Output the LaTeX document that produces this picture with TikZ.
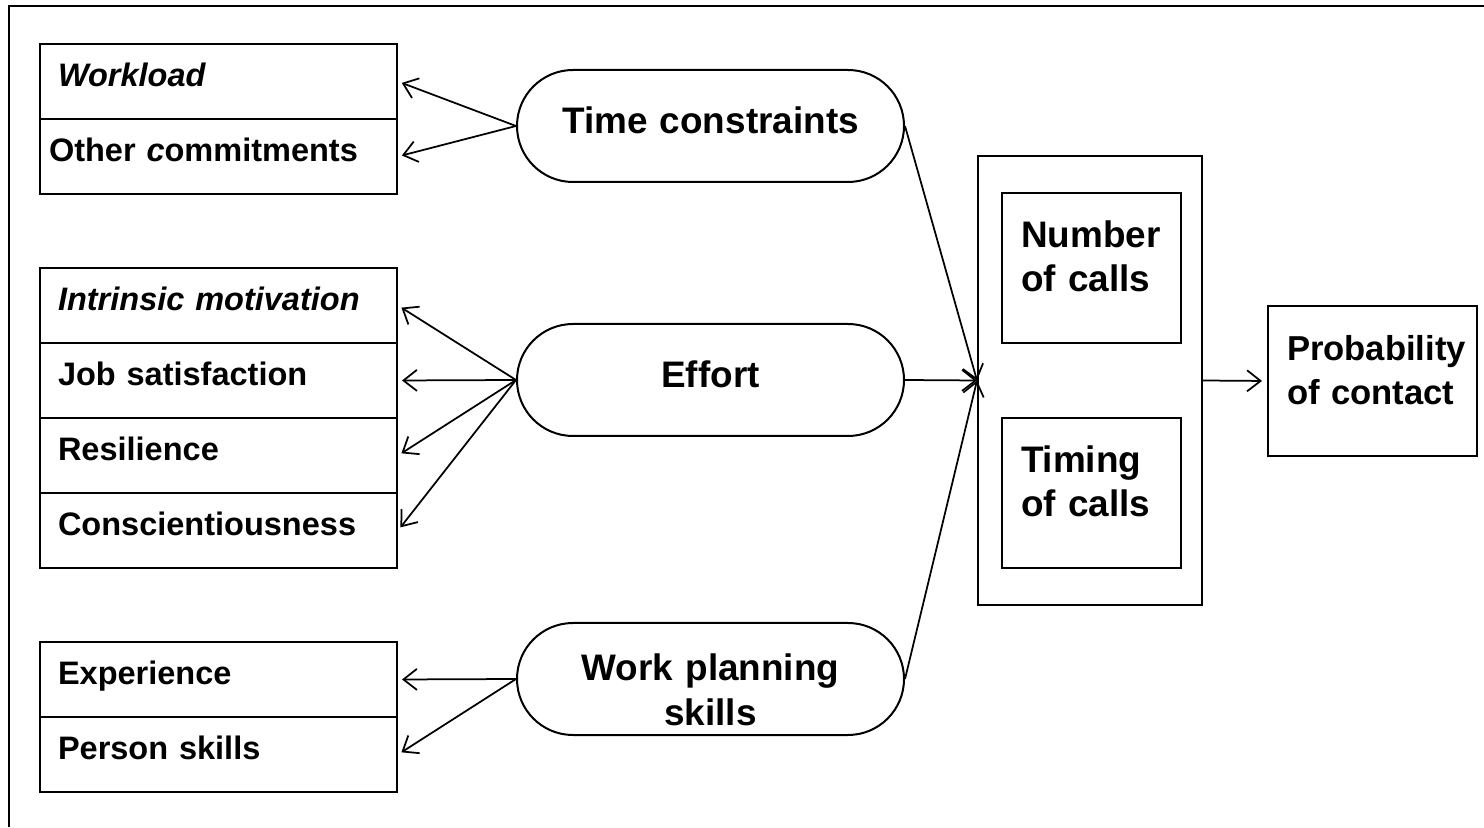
\documentclass[tikz,border=0pt]{standalone}
\usepackage{fontspec}
\setmainfont{Liberation Sans}
\usetikzlibrary{arrows.meta}

\begin{document}
\begin{tikzpicture}[
	factor/.style={draw, line width=0.04cm, minimum width=7.14cm, minimum height=1.5cm,
		text width=6.42cm, align=left, inner xsep=0.36cm, inner ysep=0.1cm,
		text height=0.5cm, text depth=0.3cm, font=\fontsize{18.5}{22}\selectfont\bfseries},
	driver/.style={draw, line width=0.04cm, rounded corners=1.12cm, minimum width=7.74cm,
		minimum height=2.24cm, text width=7cm, align=center, inner ysep=0.1cm,
		text height=0.62cm, text depth=0.3cm, font=\fontsize{21}{25.6}\selectfont\bfseries},
	callbox/.style={draw, line width=0.04cm, minimum width=3.58cm, minimum height=3cm,
		text width=2.82cm, align=left, inner xsep=0.38cm, inner ysep=0.1cm,
		text height=0.5cm, text depth=1.3cm, font=\fontsize{21}{25}\selectfont\bfseries},
	link/.style={line width=0.035cm, -{Straight Barb[length=0.27cm, width=0.42cm]}}
]
	\useasboundingbox (0, 0) rectangle (29.68, 16.54);
	\draw[line width=0.04cm] (0.18, 0) -- (0.18, 16.42) -- (29.68, 16.42);

	\node[factor] (workload) at (4.37, 14.91) {\textit{Workload}};
	\node[factor] (commit) at (4.37, 13.41) {\hspace*{-0.18cm}Other \textit{c}ommitments};

	\node[factor] (intrinsic) at (4.37, 10.43) {\textit{Intrinsic motivation}};
	\node[factor] (satisfaction) at (4.37, 8.93) {Job satisfaction};
	\node[factor] (resilience) at (4.37, 7.43) {Resilience};
	\node[factor] (conscientious) at (4.37, 5.93) {Conscientiousness};

	\node[factor] (experience) at (4.37, 2.95) {Experience};
	\node[factor] (person) at (4.37, 1.45) {Person skills};

	\node[driver] (time) at (14.21, 14.02) {Time constraints};
	\node[driver] (effort) at (14.21, 8.94) {Effort};
	\node[driver, text height=1cm, text depth=0.92cm] (planning) at (14.21, 2.96) {Work planning\\skills};

	\node[draw, line width=0.04cm, minimum width=4.48cm, minimum height=8.98cm] (calls) at (21.8, 8.93) {};
	\node[callbox] (number) at (21.83, 11.18) {Number\\of calls};
	\node[callbox] (timing) at (21.83, 6.68) {Timing\\of calls};

	\node[callbox, minimum width=4.18cm, text width=3.42cm, font=\fontsize{19.7}{25}\selectfont\bfseries] (contact) at (27.45, 8.92) {Probability\\of contact};

	\draw[link, shorten >=0.08cm] (time.west) -- (workload.east);
	\draw[link, shorten >=0.08cm] (time.west) -- (commit.east);

	\draw[link, shorten >=0.08cm] (effort.west) -- (intrinsic.east);
	\draw[link, shorten >=0.08cm] (effort.west) -- (satisfaction.east);
	\draw[link, shorten >=0.08cm] (effort.west) -- (resilience.east);
	\draw[link, shorten >=0.08cm] (effort.west) -- (conscientious.east);

	\draw[link, shorten >=0.08cm] (planning.west) -- (experience.east);
	\draw[link, shorten >=0.08cm] (planning.west) -- (person.east);

	\draw[link] (time.east) -- (calls.west);
	\draw[link] (effort.east) -- (calls.west);
	\draw[link] (planning.east) -- (calls.west);
	\draw[link, shorten >=0.1cm] (calls.east) -- (contact.west);

\end{tikzpicture}
\end{document}
